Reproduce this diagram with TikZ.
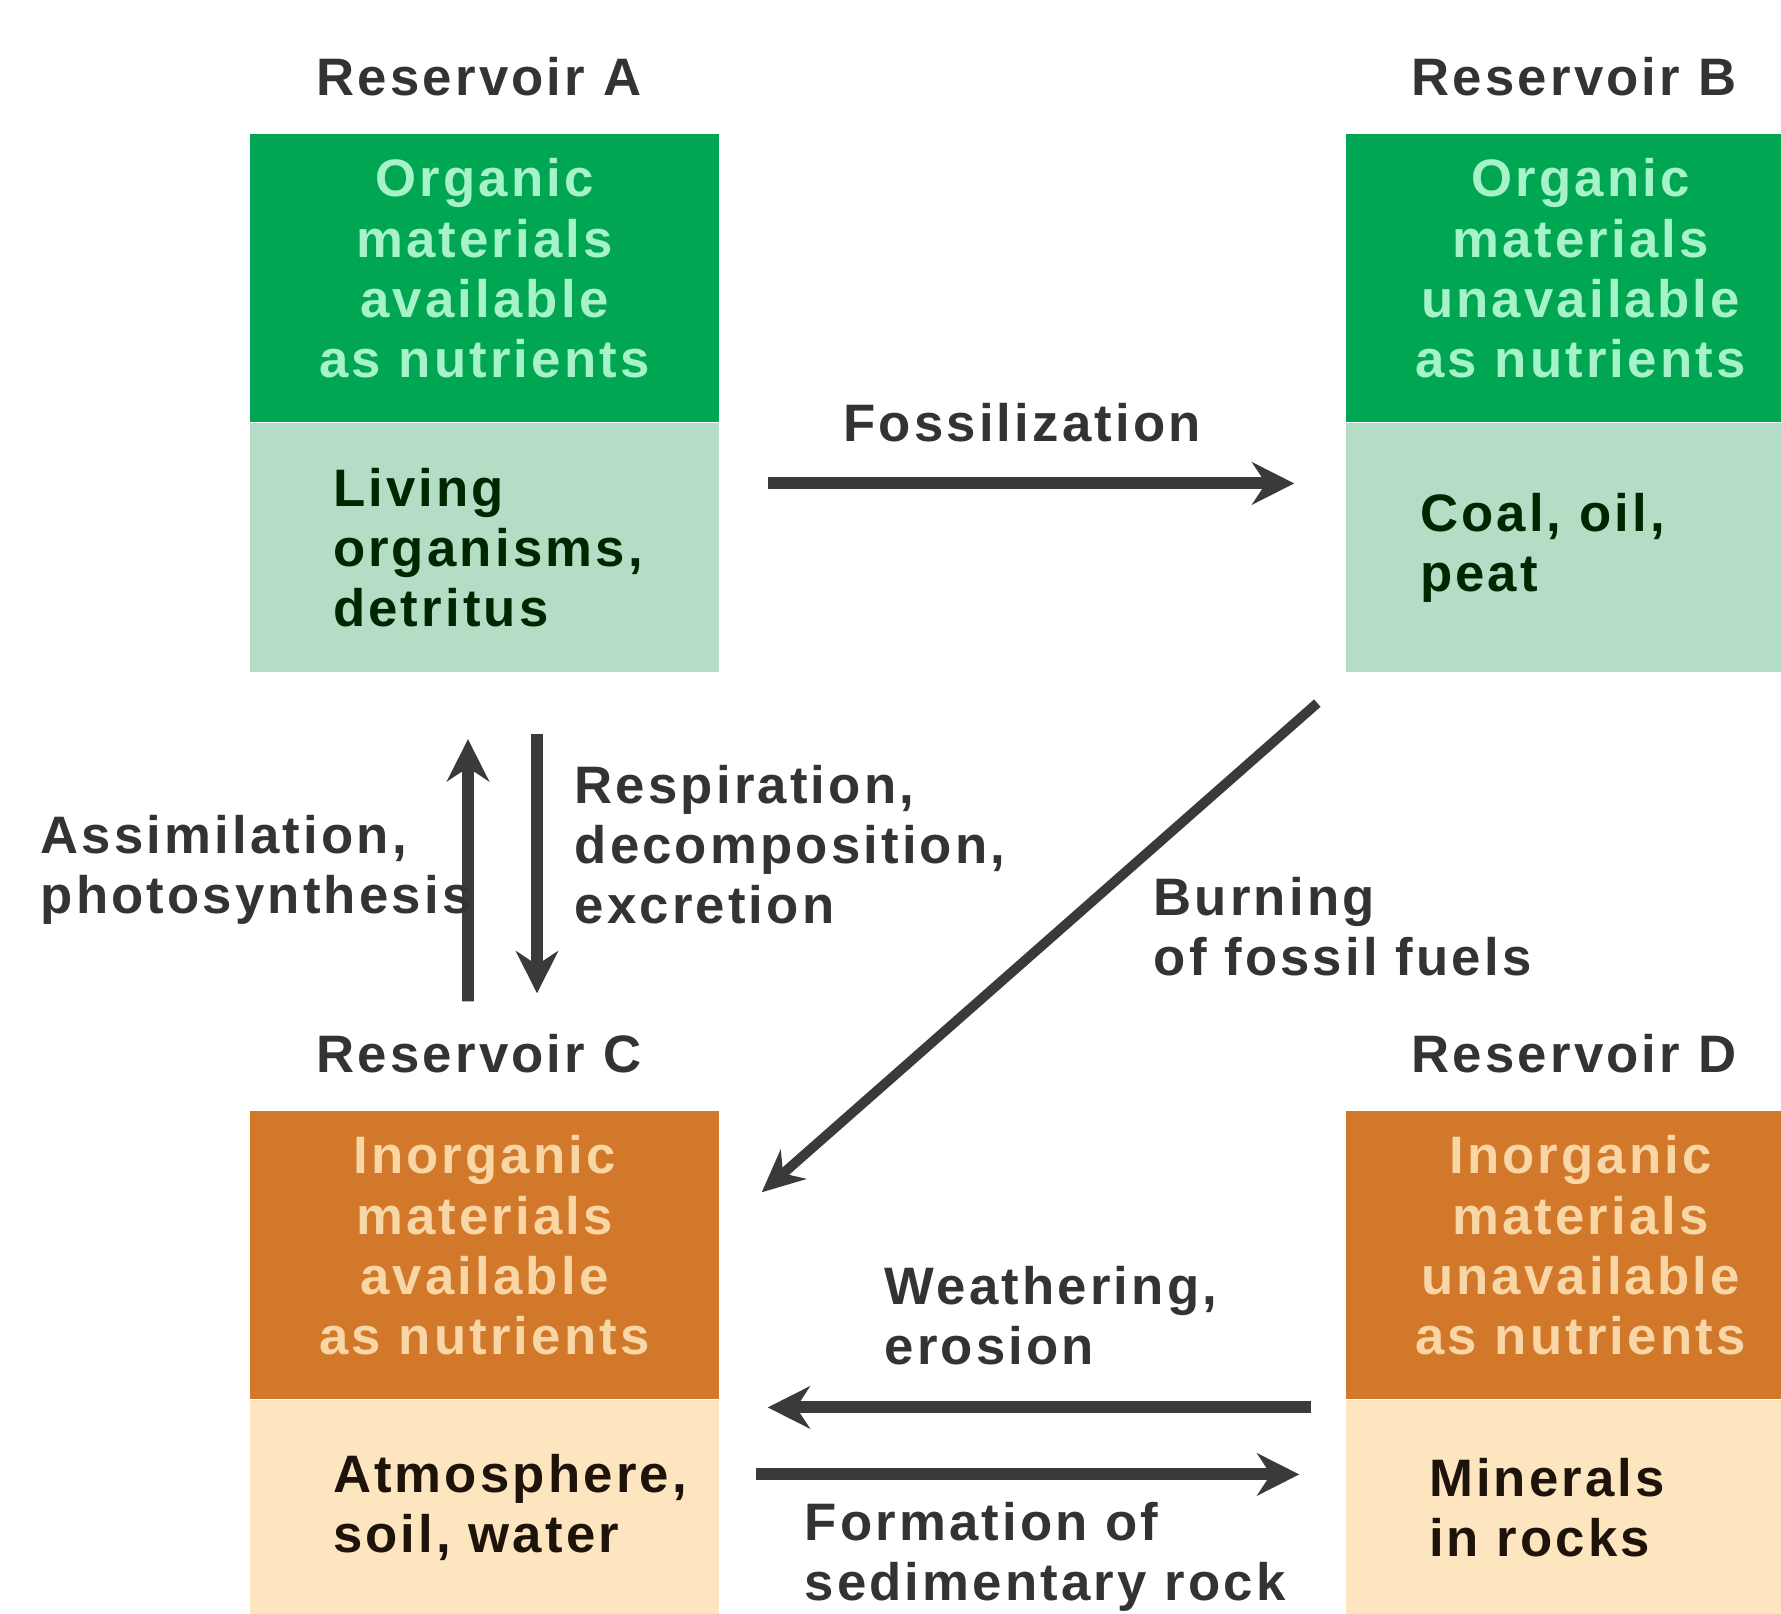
\documentclass[tikz,border=0pt]{standalone}
\usepackage{fontspec}
\setmainfont[LetterSpace=6]{Liberation Sans}
\usetikzlibrary{arrows.meta}

\definecolor{leafgreen}{HTML}{00A651}
\definecolor{palegreen}{HTML}{B3DDC5}
\definecolor{minttext}{HTML}{A6F2C9}
\definecolor{rust}{HTML}{D2782A}
\definecolor{sand}{HTML}{FDE5BF}
\definecolor{peachtext}{HTML}{F9D6A6}
\definecolor{inkgray}{HTML}{333333}
\definecolor{arrowgray}{HTML}{3A3A3A}

\tikzset{
  bodyfont/.style={font=\fontsize{15pt}{17.1pt}\selectfont\bfseries},
  lbl/.style={bodyfont, text=inkgray, align=left, anchor=west, inner sep=0pt},
  restitle/.style={bodyfont, text=inkgray, inner sep=0pt},
  topbox/.style={bodyfont, minimum width=4.69cm, minimum height=2.88cm, inner sep=0pt,
    text depth=0.2cm, align=center},
  botbox/.style={bodyfont, anchor=north west, minimum height=#1, text width=3.03cm,
    inner xsep=0.83cm, inner ysep=0pt, align=left},
  flow/.style={line width=3.4pt, draw=arrowgray, -{Stealth[length=12pt,width=12pt]}},
  thinflow/.style={line width=2.8pt, draw=arrowgray, -{Stealth[length=12pt,width=11pt]}}
}

\begin{document}
\begin{tikzpicture}

    \useasboundingbox (0,0) rectangle (17.81,-16.13);
    \clip (0,0) rectangle (17.81,-16.13);

    % Reservoir A: organic, available
    \node[restitle] (titleA) at (4.79,-0.77) {Reservoir A};
    \node[topbox, fill=leafgreen, text=minttext] (Atop) at (4.845,-2.78)
        {Organic\\materials\\available\\as nutrients};
    \node[botbox=2.49cm, fill=palegreen, text=black!85!green] (Abot) at (Atop.south west)
        {Living\\organisms,\\detritus};

    % Reservoir B: organic, unavailable
    \node[restitle] (titleB) at (15.74,-0.77) {Reservoir B};
    \node[topbox, fill=leafgreen, text=minttext] (Btop) at (15.805,-2.78)
        {Organic\\materials\\unavailable\\as nutrients};
    \node[botbox=2.49cm, fill=palegreen, text=black!85!green, inner xsep=0.74cm, text width=3.21cm] (Bbot) at (Btop.south west)
        {Coal, oil,\\peat};

    % Reservoir C: inorganic, available
    \node[restitle] (titleC) at (4.79,-10.54) {Reservoir C};
    \node[topbox, fill=rust, text=peachtext] (Ctop) at (4.845,-12.55)
        {Inorganic\\materials\\available\\as nutrients};
    \node[botbox=2.14cm, fill=sand, text=black!85!brown] (Cbot) at (Ctop.south west)
        {Atmosphere,\\soil, water};

    % Reservoir D: inorganic, unavailable
    \node[restitle] (titleD) at (15.74,-10.54) {Reservoir D};
    \node[topbox, fill=rust, text=peachtext] (Dtop) at (15.805,-12.55)
        {Inorganic\\materials\\unavailable\\as nutrients};
    \node[botbox=2.14cm, fill=sand, text=black!85!brown] (Dbot) at (Dtop.south west)
        {Minerals\\in rocks};

    % A -> B
    \node[restitle] (fossil) at (10.22,-4.23) {Fossilization};
    \draw[flow] ([shift={(0.48,0.645)}]Abot.east) -- ([shift={(-0.51,0.645)}]Bbot.west);

    % A <-> C
    \draw[flow] ([shift={(-0.165,1.09)}]Ctop.north) -- ([shift={(-0.165,-0.66)}]Abot.south);
    \draw[flow] ([shift={(0.525,-0.61)}]Abot.south) -- ([shift={(0.525,1.17)}]Ctop.north);
    \node[lbl] (assim) at (0.40,-8.70) {Assimilation,\\photosynthesis};
    \node[lbl] (resp) at (5.74,-8.45) {Respiration,\\decomposition,\\excretion};

    % B -> C
    \draw[thinflow] ([shift={(-0.28,-0.30)}]Bbot.south west) -- ([shift={(0.42,-0.82)}]Ctop.north east);
    \node[lbl] (burn) at (11.53,-9.27) {Burning\\of fossil fuels};

    % C <-> D
    \node[lbl] (weather) at (8.84,-13.16) {Weathering,\\erosion};
    \draw[flow] ([shift={(-0.34,1.0)}]Dbot.west) -- ([shift={(0.48,1.0)}]Cbot.east);
    \draw[flow] ([shift={(0.36,0.33)}]Cbot.east) -- ([shift={(-0.46,0.33)}]Dbot.west);
    \node[lbl] (sediment) at (8.04,-15.57) {Formation of\\sedimentary rock};

\end{tikzpicture}
\end{document}
